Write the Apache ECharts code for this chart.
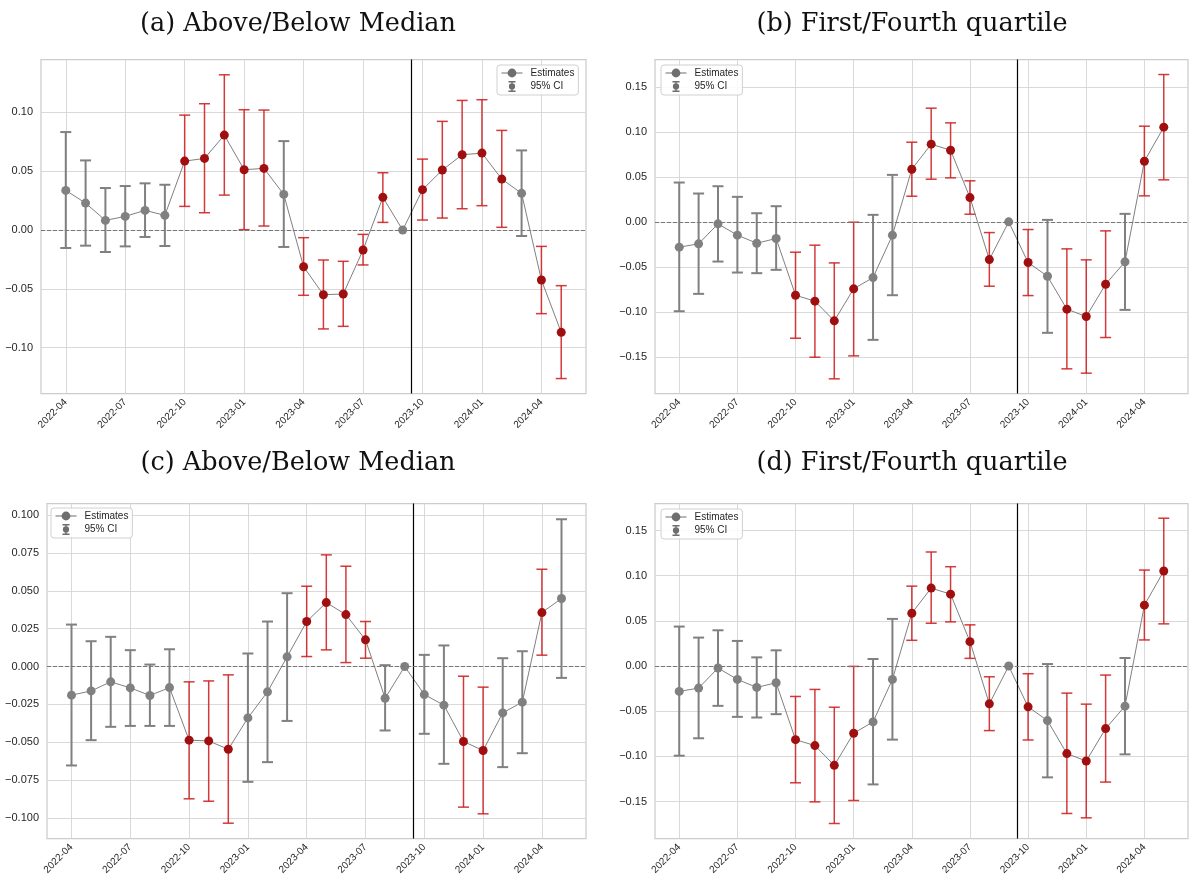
<!DOCTYPE html>
<html><head><meta charset="utf-8">
<script src="https://cdn.jsdelivr.net/npm/echarts@6/dist/echarts.min.js"></script>
<style>html,body{margin:0;padding:0;background:#fff}#c{width:1198px;height:884px}</style>
</head><body><div id="c"></div><script>
// ---- data ----
const months = ["2022-04","2022-05","2022-06","2022-07","2022-08","2022-09","2022-10","2022-11","2022-12",
  "2023-01","2023-02","2023-03","2023-04","2023-05","2023-06","2023-07","2023-08","2023-09",
  "2023-10","2023-11","2023-12","2024-01","2024-02","2024-03","2024-04","2024-05"];
const tickLabels = ["2022-04","2022-07","2022-10","2023-01","2023-04","2023-07","2023-10","2024-01","2024-04"];
const titles = ["(a) Above/Below Median","(b) First/Fourth quartile","(c) Above/Below Median","(d) First/Fourth quartile"];
const eventMonth = 17.45; // vertical line (mid 2023-09)

const estA = [0.0337,0.0229,0.0082,0.0116,0.0167,0.0125,0.0586,0.0609,0.0807,0.0513,0.0524,0.0303,-0.0312,-0.0550,-0.0544,-0.0170,0.0278,0,0.0343,0.0510,0.0640,0.0654,0.0433,0.0312,-0.0425,-0.0870];
const hiA  = [0.0833,0.0592,0.0357,0.0374,0.0397,0.0385,0.0977,0.1074,0.1320,0.1023,0.1020,0.0756,-0.0065,-0.0255,-0.0266,-0.0037,0.0487,null,0.0603,0.0924,0.1102,0.1108,0.0847,0.0677,-0.0139,-0.0473];
const loA  = [-0.0153,-0.0133,-0.0187,-0.0139,-0.0059,-0.0136,0.0201,0.0147,0.0297,0.0003,0.0034,-0.0144,-0.0555,-0.0841,-0.0819,-0.0297,0.0065,null,0.0085,0.0102,0.0181,0.0207,0.0023,-0.0051,-0.0711,-0.1263];

const estB = [-0.0281,-0.0244,-0.0022,-0.0148,-0.0237,-0.0185,-0.0815,-0.0881,-0.1100,-0.0744,-0.0619,-0.0148,0.0585,0.0863,0.0796,0.0270,-0.0419,0,-0.0452,-0.0604,-0.0970,-0.1052,-0.0693,-0.0444,0.0674,0.1052];
const hiB  = [0.0437,0.0315,0.0396,0.0278,0.0096,0.0174,-0.0337,-0.0259,-0.0456,-0.0004,0.0078,0.0522,0.0885,0.1263,0.1100,0.0456,-0.0119,null,-0.0085,0.0022,-0.0300,-0.0422,-0.0100,0.0089,0.1063,0.1637];
const loB  = [-0.0993,-0.0800,-0.0441,-0.0563,-0.0570,-0.0533,-0.1293,-0.1504,-0.1744,-0.1489,-0.1311,-0.0815,0.0285,0.0474,0.0489,0.0085,-0.0715,null,-0.0819,-0.1233,-0.1633,-0.1681,-0.1285,-0.0978,0.0289,0.0467];

const estC = [-0.0189,-0.0161,-0.0101,-0.0141,-0.0191,-0.0139,-0.0486,-0.0491,-0.0546,-0.0339,-0.0167,0.0064,0.0297,0.0422,0.0343,0.0176,-0.0209,0,-0.0185,-0.0255,-0.0495,-0.0554,-0.0306,-0.0235,0.0356,0.0449];
const hiC  = [0.0277,0.0167,0.0196,0.0108,0.0013,0.0114,-0.0101,-0.0095,-0.0055,0.0086,0.0297,0.0484,0.0530,0.0737,0.0662,0.0297,0.0009,null,0.0077,0.0139,-0.0064,-0.0136,0.0055,0.0101,0.0642,0.0972];
const loC  = [-0.0653,-0.0486,-0.0398,-0.0392,-0.0392,-0.0392,-0.0873,-0.0889,-0.1034,-0.0761,-0.0631,-0.0359,0.0066,0.0110,0.0026,0.0055,-0.0422,null,-0.0444,-0.0642,-0.0928,-0.0972,-0.0664,-0.0572,0.0075,-0.0075];

const estD = [-0.0281,-0.0244,-0.0022,-0.0148,-0.0237,-0.0185,-0.0815,-0.0881,-0.1100,-0.0744,-0.0619,-0.0148,0.0585,0.0863,0.0796,0.0270,-0.0419,0,-0.0452,-0.0604,-0.0970,-0.1052,-0.0693,-0.0444,0.0674,0.1052];
const hiD  = [0.0437,0.0315,0.0396,0.0278,0.0096,0.0174,-0.0337,-0.0259,-0.0456,-0.0004,0.0078,0.0522,0.0885,0.1263,0.1100,0.0456,-0.0119,null,-0.0085,0.0022,-0.0300,-0.0422,-0.0100,0.0089,0.1063,0.1637];
const loD  = [-0.0993,-0.0800,-0.0441,-0.0563,-0.0570,-0.0533,-0.1293,-0.1504,-0.1744,-0.1489,-0.1311,-0.0815,0.0285,0.0474,0.0489,0.0085,-0.0715,null,-0.0819,-0.1233,-0.1633,-0.1681,-0.1285,-0.0978,0.0289,0.0467];

const yTicksAB = [-0.10,-0.05,0,0.05,0.10];
const yTicksQ  = [-0.15,-0.10,-0.05,0,0.05,0.10,0.15];
const yTicksC  = [-0.100,-0.075,-0.050,-0.025,0,0.025,0.050,0.075,0.100];

// ---- layout ----
const panels = [
  {est:estA, lo:loA, hi:hiA, yt:yTicksAB, dec:2, ymin:-0.139, ymax:0.145, grid:{left:41,top:59.5,width:545,height:334}, leg:{left:497,top:65}, tx:293, ty:6},
  {est:estB, lo:loB, hi:hiB, yt:yTicksQ, dec:2, ymin:-0.1907, ymax:0.1804, grid:{left:655,top:59.5,width:533,height:334}, leg:{left:661,top:65}, tx:907, ty:6},
  {est:estC, lo:loC, hi:hiC, yt:yTicksC, dec:3, ymin:-0.1135, ymax:0.1076, grid:{left:47,top:503.5,width:539,height:335}, leg:{left:51,top:508}, tx:293, ty:445},
  {est:estD, lo:loD, hi:hiD, yt:yTicksQ, dec:2, ymin:-0.191, ymax:0.180, grid:{left:655,top:503.5,width:533,height:335}, leg:{left:661,top:509}, tx:907, ty:445}
];
const tickPos = tickLabels.map((t)=>months.indexOf(t));
const GREY='#808080', DARKRED='#a00f0f', RED='rgba(205,32,32,0.88)';
const fmt = (v,d)=> (v<0?'\u2212':'') + Math.abs(v).toFixed(d);
const isSig = (lo,hi)=> lo!=null && hi!=null && (lo>0 || hi<0);
const ciIcon = 'path://M1.5,0 L10.5,0 L10.5,2 L1.5,2 Z M5.1,0 L6.9,0 L6.9,14 L5.1,14 Z M1.5,12 L10.5,12 L10.5,14 L1.5,14 Z M2,7 A4,4 0 1 1 10,7 A4,4 0 1 1 2,7 Z';

const option = {animation:false, backgroundColor:'#fff', title:[], grid:[], xAxis:[], yAxis:[], legend:[], series:[]};
panels.forEach((p,i)=>{
  option.title.push({text:titles[i], left:p.tx, top:p.ty, textAlign:'center',
    textStyle:{fontFamily:'DejaVu Serif', fontSize:25.5, fontWeight:'normal', color:'#111'}});
  option.grid.push(Object.assign({show:true, borderColor:'#cccccc', borderWidth:1.25, backgroundColor:'#fff'}, p.grid));
  option.xAxis.push({gridIndex:i, type:'value', min:-1.25, max:26.25,
    axisLine:{show:false}, axisTick:{show:false, customValues:tickPos},
    axisLabel:{customValues:tickPos, rotate:45, fontSize:10, color:'#262626', fontFamily:'Liberation Sans', margin:7,
      formatter:(v)=>months[Math.round(v)]},
    splitLine:{show:true, lineStyle:{color:'#d9d9d9', width:1}}});
  option.yAxis.push({gridIndex:i, type:'value', min:p.ymin, max:p.ymax,
    axisLine:{show:false}, axisTick:{show:false, customValues:p.yt},
    axisLabel:{customValues:p.yt, fontSize:11, color:'#262626', fontFamily:'Liberation Sans', margin:8,
      formatter:(v)=>fmt(v,p.dec)},
    splitLine:{show:true, lineStyle:{color:'#d9d9d9', width:1}}});
  option.legend.push({left:p.leg.left, top:p.leg.top, orient:'vertical', padding:[3,4,3,4], itemGap:3,
    itemWidth:21, itemHeight:11, borderColor:'#d0d0d0', borderWidth:1, borderRadius:3, backgroundColor:'rgba(255,255,255,0.85)',
    textStyle:{fontSize:10, color:'#262626', fontFamily:'Liberation Sans', padding:[0,0,0,3]},
    data:[{name:'Estimates', itemStyle:{color:'#6e6e6e'}, lineStyle:{color:'#6e6e6e', width:1}},
          {name:'95% CI', icon:ciIcon, itemStyle:{color:'#6e6e6e'}}]});
  const ci = [];
  p.est.forEach((v,j)=>{ if(p.lo[j]!=null) ci.push([j, p.lo[j], p.hi[j]]); });
  option.series.push({type:'custom', name:'95% CI', xAxisIndex:i, yAxisIndex:i, z:2, data:ci,
    itemStyle:{color:GREY}, encode:{x:0, y:[1,2]},
    renderItem:(params, api)=>{
      const x=api.value(0), lo=api.value(1), hi=api.value(2);
      const a=api.coord([x,hi]), b=api.coord([x,lo]);
      const sig=isSig(lo,hi);
      const col= sig?RED:GREY, w= sig?1.5:2, hw=5.5;
      return {type:'group', children:[
        {type:'line', shape:{x1:a[0],y1:a[1],x2:b[0],y2:b[1]}, style:{stroke:col, lineWidth:w}},
        {type:'line', shape:{x1:a[0]-hw,y1:a[1],x2:a[0]+hw,y2:a[1]}, style:{stroke:col, lineWidth:w}},
        {type:'line', shape:{x1:b[0]-hw,y1:b[1],x2:b[0]+hw,y2:b[1]}, style:{stroke:col, lineWidth:w}}
      ]};
    }});
  option.series.push({type:'line', name:'Estimates', xAxisIndex:i, yAxisIndex:i, z:3,
    data:p.est.map((v,j)=>[j,v]), symbol:'circle', symbolSize:9, showSymbol:true,
    lineStyle:{color:GREY, width:1},
    itemStyle:{color:(prm)=> isSig(p.lo[prm.dataIndex], p.hi[prm.dataIndex]) ? DARKRED : GREY},
    markLine:{silent:true, symbol:'none', animation:false, label:{show:false},
      data:[{xAxis:eventMonth, lineStyle:{color:'#000', width:1.2, type:'solid'}},
            {yAxis:0, lineStyle:{color:'#777', width:1, type:[4,2]}}]}});
});
const chart = echarts.init(document.getElementById('c'), null, {renderer:'canvas'});
chart.setOption(option);
</script></body></html>
